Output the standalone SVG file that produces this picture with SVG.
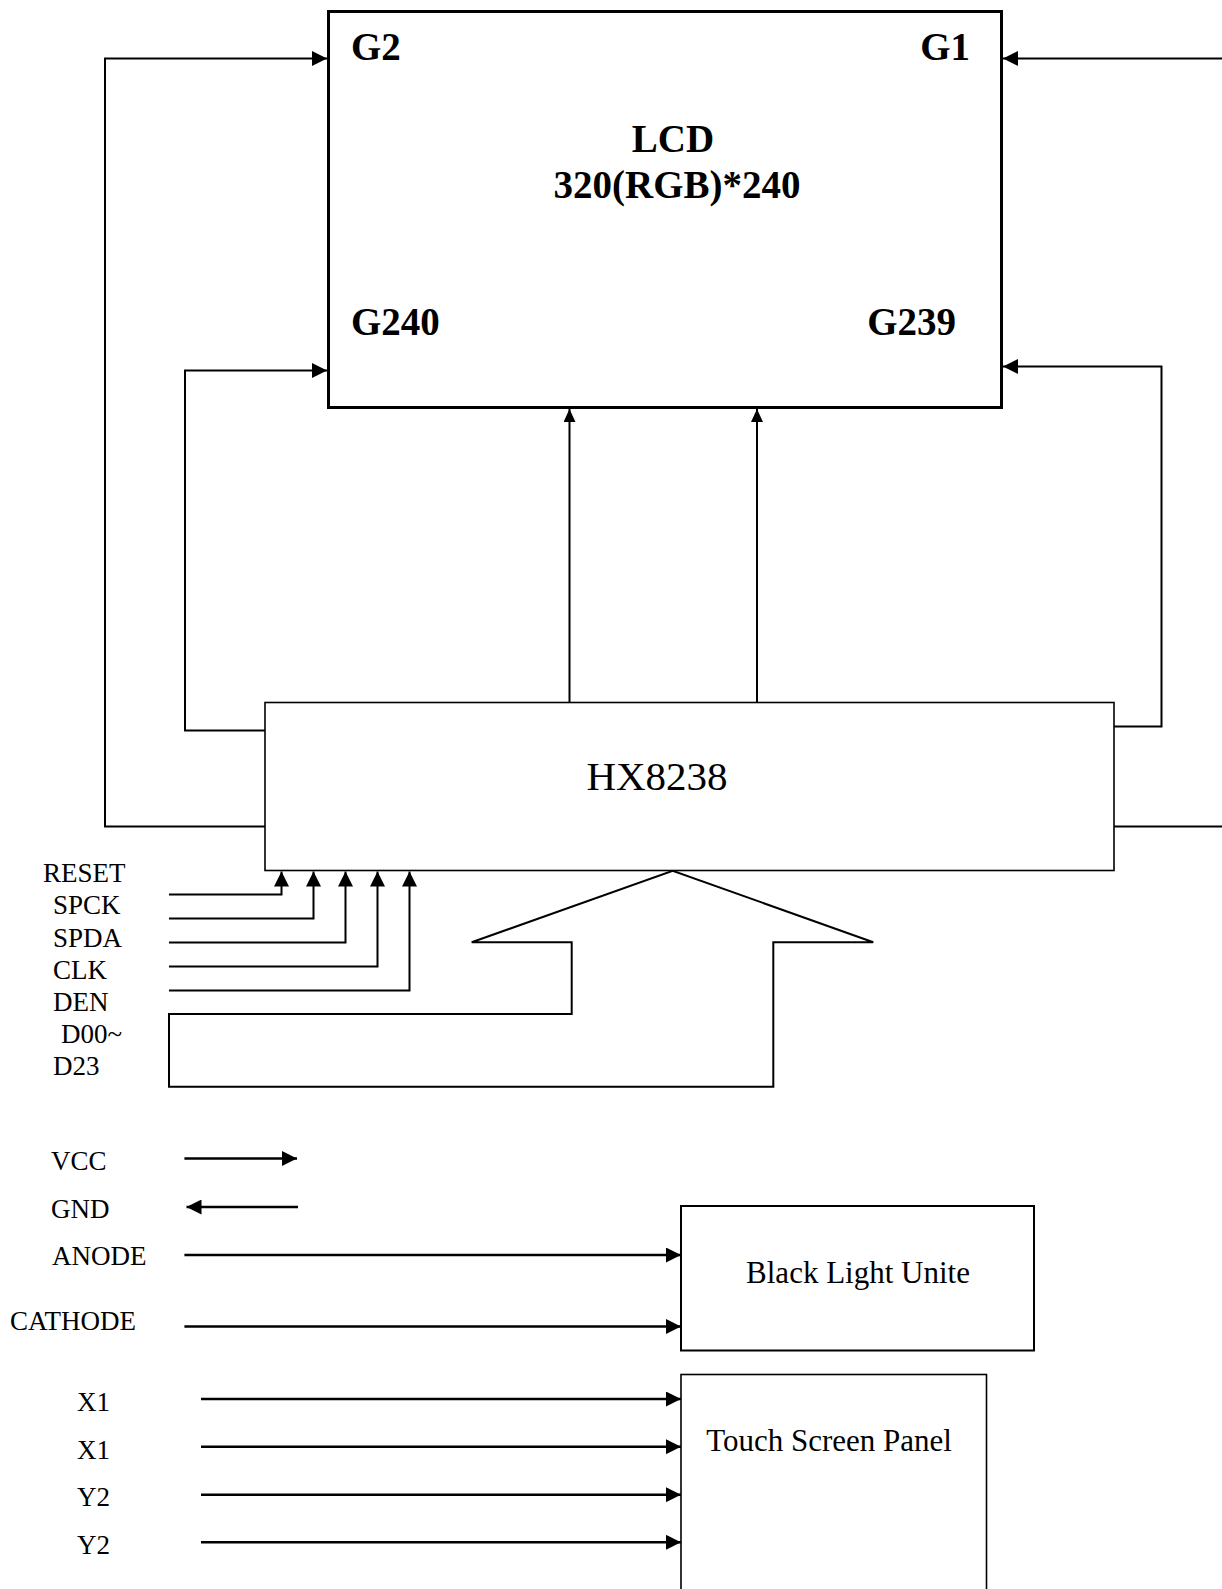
<svg xmlns="http://www.w3.org/2000/svg" width="1222" height="1589" viewBox="0 0 1222 1589">
<style>
text{font-family:"Liberation Serif","Times New Roman",serif;fill:#000}
.b{font-weight:bold;font-size:39px}
.s{font-size:27px}
.m{font-size:31px}
.box{fill:#fff;stroke:#000}
.c{fill:none;stroke:#000;stroke-width:2}
.t{fill:none;stroke:#000;stroke-width:2.6}
</style>
<defs>
<marker id="ah" markerUnits="userSpaceOnUse" markerWidth="15" markerHeight="15" refX="15" refY="7.5" orient="auto"><path d="M0,0 L15,7.5 L0,15 z" fill="#000"/></marker>
<marker id="as" markerUnits="userSpaceOnUse" markerWidth="13" markerHeight="12" refX="13" refY="6" orient="auto"><path d="M0,0 L13,6 L0,12 z" fill="#000"/></marker>
</defs>
<rect width="1222" height="1589" fill="#fff"/>
<g id="connectors">
<polyline class="c" points="265,826.5 105,826.5 105,58.5 327,58.5" marker-end="url(#ah)"/>
<polyline class="c" points="1114,826.5 1224,826.5 1224,58.5 1003,58.5" marker-end="url(#ah)"/>
<polyline class="c" points="265,730.5 185,730.5 185,370.5 327,370.5" marker-end="url(#ah)"/>
<polyline class="c" points="1114,726.5 1161.5,726.5 1161.5,366.5 1003,366.5" marker-end="url(#ah)"/>
<line class="c" x1="569.5" y1="702.5" x2="569.5" y2="409" marker-end="url(#as)"/>
<line class="c" x1="757" y1="702.5" x2="757" y2="409" marker-end="url(#as)"/>
<polyline class="c" points="169,894.5 281.5,894.5 281.5,871.5" marker-end="url(#ah)"/>
<polyline class="c" points="169,918.5 313.5,918.5 313.5,871.5" marker-end="url(#ah)"/>
<polyline class="c" points="169,942.5 345.5,942.5 345.5,871.5" marker-end="url(#ah)"/>
<polyline class="c" points="169,966.5 377.5,966.5 377.5,871.5" marker-end="url(#ah)"/>
<polyline class="c" points="169,990.5 409.5,990.5 409.5,871.5" marker-end="url(#ah)"/>
<polygon class="c" points="169,1014 571.7,1014 571.7,942.3 471.7,942.3 672.7,870.7 873.3,942.3 773.3,942.3 773.3,1086.7 169,1086.7"/>
<line class="t" x1="184.4" y1="1158.5" x2="297" y2="1158.5" marker-end="url(#ah)"/>
<line class="t" x1="298" y1="1207" x2="186.5" y2="1207" marker-end="url(#ah)"/>
<line class="t" x1="184.4" y1="1255" x2="681" y2="1255" marker-end="url(#ah)"/>
<line class="t" x1="184.4" y1="1326.5" x2="681" y2="1326.5" marker-end="url(#ah)"/>
<line class="t" x1="201" y1="1399" x2="681" y2="1399" marker-end="url(#ah)"/>
<line class="t" x1="201" y1="1446.7" x2="681" y2="1446.7" marker-end="url(#ah)"/>
<line class="t" x1="201" y1="1494.7" x2="681" y2="1494.7" marker-end="url(#ah)"/>
<line class="t" x1="201" y1="1542.3" x2="681" y2="1542.3" marker-end="url(#ah)"/>
</g>
<g id="lcd">
<rect class="box" x="328.5" y="11.5" width="673" height="396" stroke-width="3"/>
<text class="b" x="351" y="60">G2</text>
<text class="b" x="970" y="60" text-anchor="end">G1</text>
<text class="b" x="673" y="152" text-anchor="middle">LCD</text>
<text class="b" x="677" y="198" text-anchor="middle">320(RGB)*240</text>
<text class="b" x="351" y="335">G240</text>
<text class="b" x="956" y="335" text-anchor="end">G239</text>
</g>
<g id="hx8238">
<rect class="box" x="265" y="702.5" width="849" height="168" stroke-width="1.6"/>
<text x="657" y="790" font-size="41" text-anchor="middle">HX8238</text>
</g>
<g id="signals">
<text class="s" x="43" y="882">RESET</text>
<text class="s" x="53" y="914">SPCK</text>
<text class="s" x="53" y="946.5">SPDA</text>
<text class="s" x="53" y="978.5">CLK</text>
<text class="s" x="53" y="1010.5">DEN</text>
<text class="s" x="61" y="1043">D00~</text>
<text class="s" x="53" y="1075">D23</text>
<text class="s" x="51" y="1170">VCC</text>
<text class="s" x="51" y="1217.5">GND</text>
<text class="s" x="52" y="1265">ANODE</text>
<text class="s" x="10" y="1330">CATHODE</text>
<text class="s" x="77" y="1410.5">X1</text>
<text class="s" x="77" y="1458.5">X1</text>
<text class="s" x="77" y="1506">Y2</text>
<text class="s" x="77" y="1553.5">Y2</text>
</g>
<g id="backlight">
<rect class="box" x="681" y="1206" width="353" height="144.5" stroke-width="2"/>
<text class="m" x="858" y="1283" text-anchor="middle">Black Light Unite</text>
</g>
<g id="touch">
<rect class="box" x="681" y="1374.5" width="305.5" height="300" stroke-width="1.6"/>
<text class="m" x="829" y="1451" text-anchor="middle">Touch Screen Panel</text>
</g>
</svg>
